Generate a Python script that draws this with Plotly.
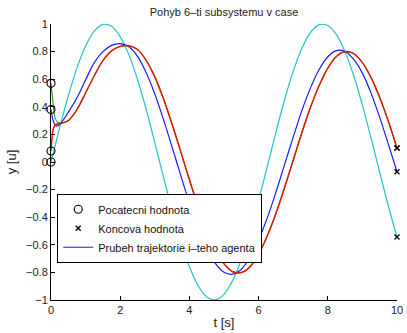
import plotly.graph_objects as go

# time samples (s)
t = [0, 0.05, 0.1, 0.15, 0.2, 0.3,
     0.5, 0.75, 1.0, 1.25, 1.5, 1.75, 2.0, 2.25, 2.5, 2.75, 3.0, 3.25, 3.5, 3.75,
     4.0, 4.25, 4.5, 4.75, 5.0, 5.25, 5.5, 5.75, 6.0, 6.25, 6.5, 6.75, 7.0, 7.25,
     7.5, 7.75, 8.0, 8.25, 8.5, 8.75, 9.0, 9.25, 9.5, 9.75, 10.0]

y_cyan = [0, 0.05, 0.10, 0.149, 0.199, 0.296,
          0.479, 0.682, 0.841, 0.949, 0.997, 0.984, 0.909, 0.778, 0.598, 0.382, 0.141,
          -0.108, -0.351, -0.572, -0.757, -0.895, -0.978, -0.999, -0.959, -0.859,
          -0.706, -0.508, -0.279, -0.033, 0.215, 0.451, 0.657, 0.823, 0.938, 0.995,
          0.989, 0.923, 0.798, 0.625, 0.412, 0.174, -0.075, -0.319, -0.544]

y_blue = [0.38, 0.31, 0.275, 0.262, 0.262, 0.285,
          0.36, 0.465, 0.595, 0.72, 0.80, 0.845, 0.858, 0.835, 0.766, 0.649, 0.493,
          0.309, 0.108, -0.097, -0.297, -0.476, -0.626, -0.735, -0.799, -0.813,
          -0.777, -0.692, -0.564, -0.405, -0.220, -0.019, 0.180, 0.372, 0.537, 0.670,
          0.763, 0.807, 0.801, 0.744, 0.644, 0.499, 0.323, 0.130, -0.071]

y_green = [0.57, 0.45, 0.34, 0.30, 0.285, 0.282,
           0.30, 0.38, 0.50, 0.625, 0.735, 0.805, 0.838, 0.843, 0.815, 0.737, 0.617,
           0.459, 0.274, 0.075, -0.128, -0.322, -0.495, -0.637, -0.738, -0.795,
           -0.801, -0.760, -0.668, -0.536, -0.373, -0.186, 0.013, 0.212, 0.396, 0.554,
           0.681, 0.765, 0.800, 0.785, 0.720, 0.612, 0.468, 0.295, 0.102]

y_red = [0.08, 0.22, 0.262, 0.272, 0.277, 0.28,
         0.30, 0.38, 0.50, 0.625, 0.735, 0.805, 0.838, 0.843, 0.815, 0.737, 0.617,
         0.459, 0.274, 0.075, -0.128, -0.322, -0.495, -0.637, -0.738, -0.795,
         -0.801, -0.760, -0.668, -0.536, -0.373, -0.186, 0.013, 0.212, 0.396, 0.554,
         0.681, 0.765, 0.800, 0.785, 0.720, 0.612, 0.468, 0.295, 0.102]

series = [("cyan", y_cyan, "#22c4c4", 1.2),
          ("green", y_green, "#008800", 1.0),
          ("blue", y_blue, "#1a1aff", 1.2),
          ("red", y_red, "#dd1a00", 1.5)]

x_ticks = [0, 2, 4, 6, 8, 10]
x_ticktext = ["0", "2", "4", "6", "8", "10"]
y_ticks = [-1, -0.8, -0.6, -0.4, -0.2, 0, 0.2, 0.4, 0.6, 0.8, 1]
y_ticktext = ["−1", "−0.8", "−0.6", "−0.4", "−0.2", "0", "0.2", "0.4", "0.6", "0.8", "1"]

title = "Pohyb 6–ti subsystemu v case"
legend_names = ["Pocatecni hodnota", "Koncova hodnota", "Prubeh trajektorie i–teho agenta"]

fig = go.Figure()
for name, ys, col, w in series:
    fig.add_trace(go.Scatter(
        x=t, y=ys, mode="lines",
        line=dict(color=col, width=w, shape="spline", smoothing=0.8),
        name=legend_names[2] if name == "blue" else name,
        showlegend=(name == "blue"), legendrank=3))

start_y = [s[1][0] for s in series]
end_y = [s[1][-1] for s in series]
fig.add_trace(go.Scatter(
    x=[t[0]] * len(start_y), y=start_y, mode="markers", name=legend_names[0], cliponaxis=False,
    marker=dict(symbol="circle-open", size=8, color="black", line=dict(width=1.1, color="black")),
    legendrank=1))
fig.add_trace(go.Scatter(
    x=[t[-1]] * len(end_y), y=end_y, mode="markers", name=legend_names[1], cliponaxis=False,
    marker=dict(symbol="x-thin", size=5, color="black", line=dict(width=1.3, color="black")),
    legendrank=2))

font = "Liberation Sans, Arial, sans-serif"
fig.update_layout(
    width=407, height=333,
    margin=dict(l=51, r=4, t=24, b=33),
    paper_bgcolor="white", plot_bgcolor="white",
    font=dict(family=font, size=11, color="#222"),
    title=dict(text=title, x=0.5, xanchor="center", xref="paper", y=1 - 12 / 333, yanchor="middle",
               font=dict(size=11, color="#222")),
    showlegend=True,
    legend=dict(x=0.018, y=0.385, xanchor="left", yanchor="top",
                bgcolor="white", bordercolor="black", borderwidth=1,
                font=dict(size=11, color="#111"), tracegroupgap=0, itemwidth=30),
    xaxis=dict(range=[0, 10], tickmode="array", tickvals=x_ticks, ticktext=x_ticktext,
               ticks="inside", ticklen=4, tickcolor="black", ticklabeloverflow="allow",
               showline=True, linecolor="black", linewidth=1, showgrid=False, zeroline=False,
               title=dict(text="t [s]", standoff=2), tickfont=dict(size=11)),
    yaxis=dict(range=[-1, 1], tickmode="array", tickvals=y_ticks, ticktext=y_ticktext,
               ticks="inside", ticklen=4, tickcolor="black", ticklabeloverflow="allow",
               showline=True, linecolor="black", linewidth=1, showgrid=False, zeroline=False,
               title=dict(text="y [u]", standoff=6), tickfont=dict(size=11)),
)

fig.write_html("out.html")
